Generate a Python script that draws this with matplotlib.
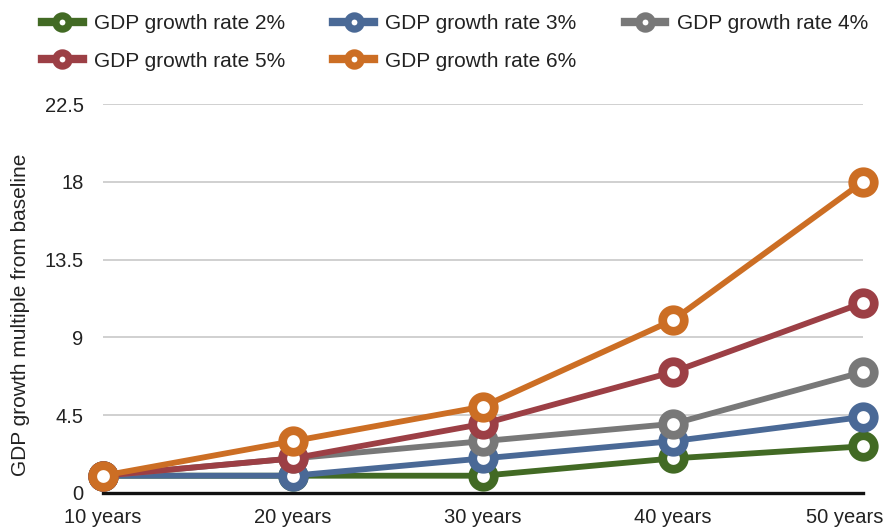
import matplotlib
matplotlib.use("Agg")
import matplotlib.pyplot as plt
import matplotlib.transforms as mtransforms
from matplotlib.lines import Line2D

plt.rcParams["font.family"] = ["Liberation Sans", "DejaVu Sans"]

# horizons and growth multiples per scenario
periods = ["10 years", "20 years", "30 years", "40 years", "50 years"]
rate_2 = [1, 1, 1, 2, 2.7]
rate_3 = [1, 1, 2, 3, 4.4]
rate_4 = [1, 2, 3, 4, 7]
rate_5 = [1, 2, 4, 7, 11]
rate_6 = [1, 3, 5, 10, 18]

series = [
    ("GDP growth rate 2%", rate_2, "#426a24"),
    ("GDP growth rate 3%", rate_3, "#4a6996"),
    ("GDP growth rate 4%", rate_4, "#787878"),
    ("GDP growth rate 5%", rate_5, "#9c3f45"),
    ("GDP growth rate 6%", rate_6, "#cc6e24"),
]
yticks = [0, 4.5, 9, 13.5, 18, 22.5]

W, H = 887, 532
fig = plt.figure(figsize=(W / 100, H / 100), dpi=100)
ax = fig.add_axes([103 / W, 1 - 493 / H, 760 / W, 389 / H])

x = list(range(len(periods)))
handles = []
for name, vals, col in series:
    ax.plot(x, vals, color=col, lw=4.2, marker="o", ms=15.5, mew=6.3,
            mfc="white", mec=col, clip_on=False, zorder=3)
    handles.append(Line2D([], [], color=col, lw=6, marker="o", ms=9.5,
                          mew=5.2, mfc="white", mec=col))

ax.set_xlim(0, 4)
ax.set_ylim(0, 22.5)
ax.set_xticks(x)
ax.set_xticklabels(periods)
ax.set_yticks(yticks)
ax.set_yticklabels(["0", "4.5", "9", "13.5", "18", "22.5"])
ax.tick_params(axis="both", length=0, labelsize=14.5, colors="#222222")
ax.tick_params(axis="y", pad=14)
ax.tick_params(axis="x", pad=11)

# keep the last category label inside the figure
last = ax.get_xticklabels()[-1]
last.set_transform(last.get_transform() +
                   mtransforms.ScaledTranslation(-0.18, 0, fig.dpi_scale_trans))

ax.grid(axis="y", color="#c8c8c8", lw=1.2)
ax.set_axisbelow(True)
for s in ["left", "right", "top"]:
    ax.spines[s].set_visible(False)
ax.spines["bottom"].set_color("#111111")
ax.spines["bottom"].set_linewidth(2.4)
ax.spines["bottom"].set_zorder(2)

fig.text(21 / W, 1 - 315 / H, "GDP growth multiple from baseline",
         rotation=90, ha="center", va="center", fontsize=15, color="#222222")

# legend fills column by column, so reorder to read row by row
order = [0, 3, 1, 4, 2]
fig.legend([handles[i] for i in order], [series[i][0] for i in order],
           ncol=3, frameon=False,
           loc="upper left", bbox_to_anchor=(42 / W, 1 - 14 / H),
           borderpad=0, borderaxespad=0, fontsize=15,
           handlelength=1.95, handletextpad=0.55, columnspacing=2.3,
           labelspacing=0.9, labelcolor="#222222")

fig.savefig("out.png", dpi=100)
